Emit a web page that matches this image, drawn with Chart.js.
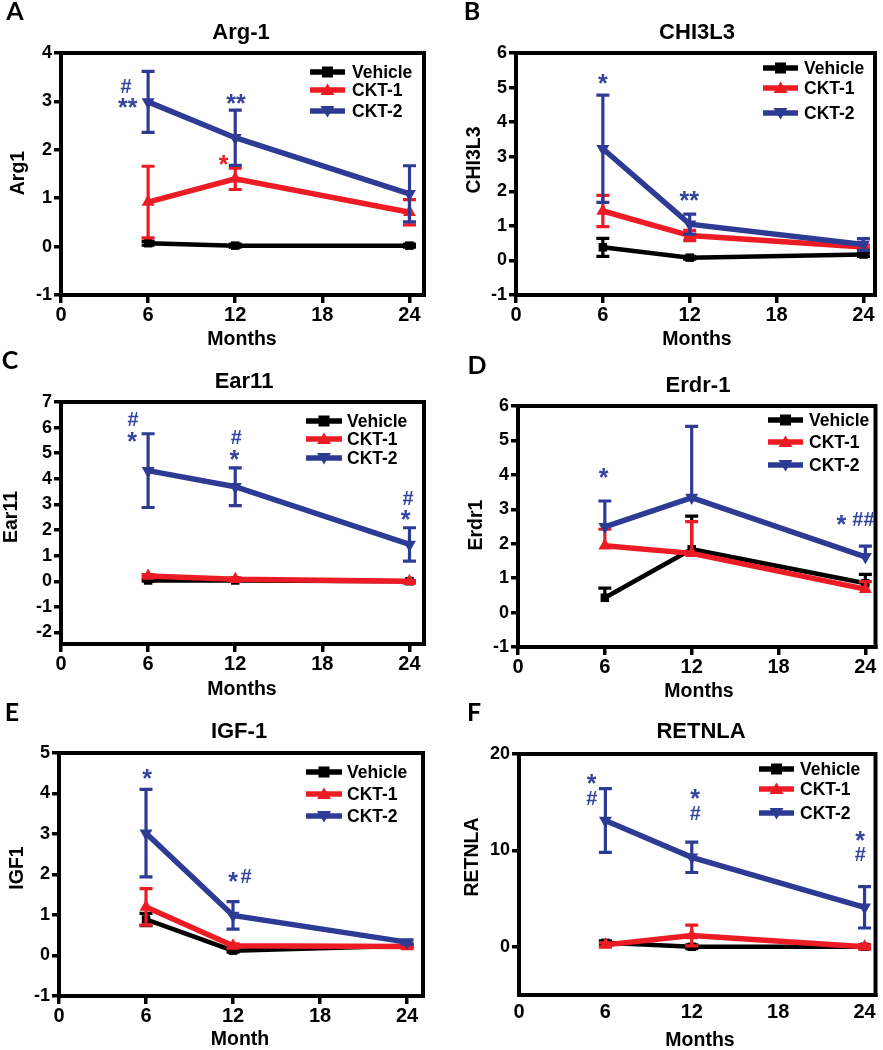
<!DOCTYPE html>
<html><head><meta charset="utf-8">
<script src="https://cdn.jsdelivr.net/npm/chart.js@4.4.1/dist/chart.umd.min.js"></script>
<style>
html,body{margin:0;padding:0;background:#fff;}
#wrap{position:relative;width:883px;height:1050px;overflow:hidden;background:#fff;}
canvas{position:absolute;}
</style></head><body><div id="wrap"></div>
<script>
// ---------- data ----------
const months = [6, 12, 24];
const seriesNames = ['Vehicle', 'CKT-1', 'CKT-2'];
const xTicks = [0, 6, 12, 18, 24];

// A: Arg-1
const argTicks = [-1, 0, 1, 2, 3, 4];
const argVehicle = [0.07, 0.02, 0.02];
const argVehicleErr = [0.04, 0.03, 0.03];
const argCkt1 = [0.92, 1.40, 0.71];
const argCkt1Err = [0.74, 0.22, 0.26];
const argCkt2 = [2.99, 2.25, 1.09];
const argCkt2Err = [0.63, 0.57, 0.58];

// B: CHI3L3
const chiTicks = [-1, 0, 1, 2, 3, 4, 5, 6];
const chiVehicle = [0.38, 0.08, 0.17];
const chiVehicleErr = [0.26, 0.04, 0.05];
const chiCkt1 = [1.43, 0.72, 0.39];
const chiCkt1Err = [0.45, 0.15, 0.05];
const chiCkt2 = [3.23, 1.05, 0.46];
const chiCkt2Err = [1.55, 0.29, 0.17];

// C: Ear11
const earTicks = [-2, -1, 0, 1, 2, 3, 4, 5, 6, 7];
const earVehicle = [0.03, 0.03, 0.0];
const earVehicleErr = [0.03, 0.03, 0.03];
const earCkt1 = [0.21, 0.08, 0.0];
const earCkt1Err = [0.05, 0.05, 0.03];
const earCkt2 = [4.32, 3.69, 1.44];
const earCkt2Err = [1.44, 0.74, 0.65];

// D: Erdr-1 (upper error bars only)
const erdTicks = [-1, 0, 1, 2, 3, 4, 5, 6];
const erdVehicle = [0.43, 1.84, 0.85];
const erdVehicleErr = [0.28, 0.96, 0.26];
const erdCkt1 = [1.94, 1.72, 0.68];
const erdCkt1Err = [0.48, 0.92, 0.22];
const erdCkt2 = [2.49, 3.34, 1.62];
const erdCkt2Err = [0.75, 2.07, 0.31];

// E: IGF-1
const igfTicks = [-1, 0, 1, 2, 3, 4, 5];
const igfVehicle = [0.89, 0.12, 0.24];
const igfVehicleErr = [0.15, 0.04, 0.04];
const igfCkt1 = [1.20, 0.24, 0.22];
const igfCkt1Err = [0.45, 0.05, 0.04];
const igfCkt2 = [3.02, 0.99, 0.33];
const igfCkt2Err = [1.08, 0.34, 0.05];

// F: RETNLA
const retTicks = [0, 10, 20];
const retVehicle = [0.41, 0.0, 0.0];
const retVehicleErr = [0.2, 0.2, 0.2];
const retCkt1 = [0.2, 1.17, 0.0];
const retCkt1Err = [0.2, 1.07, 0.2];
const retCkt2 = [13.1, 9.28, 4.1];
const retCkt2Err = [3.3, 1.57, 2.15];

// ---------- styling / layout ----------
const FONT = '"Liberation Sans", Arial, Helvetica, sans-serif';
const LFONT = 'Lato, "Open Sans", sans-serif';
const BLACK = '#000000', RED = '#ed1c24', BLUE = '#2e3b94', NBLUE = '#34449e';
const COLORS = [BLACK, RED, BLUE];
const STYLES = ['rect', 'triangle', 'triangle'];
const ROTS = [0, 0, 180];

const panels = [
  { cv:[0,0,440,350], area:[61,53,424,295], xMax:25, yMin:-1, yMax:4, yTicks:argTicks,
    vals:[argVehicle,argCkt1,argCkt2], errs:[argVehicleErr,argCkt1Err,argCkt2Err], upOnly:false,
    letter:['A',15,12], title:['Arg-1',241,33], xTitle:['Months',242,340], yTitle:['Arg1',19,173],
    legend:{x1:310,x2:345,tx:352,ys:[72,90,111]}, xMarks:true,
    notes:[['#',4.48,3.32,NBLUE],['**',4.6,2.99,NBLUE],['**',12.05,3.09,NBLUE],['*',11.2,1.81,RED]] },
  { cv:[440,0,443,350], area:[516,53,875,295], xMax:24.8, yMin:-1, yMax:6, yTicks:chiTicks,
    vals:[chiVehicle,chiCkt1,chiCkt2], errs:[chiVehicleErr,chiCkt1Err,chiCkt2Err], upOnly:false,
    letter:['B',472,12], title:['CHI3L3',697,33], xTitle:['Months',697,340], yTitle:['CHI3L3',475,160],
    legend:{x1:763,x2:798,tx:804,ys:[68,88,113]}, xMarks:true,
    notes:[['*',6.0,5.28,NBLUE],['**',11.96,1.9,NBLUE]] },
  { cv:[0,345,440,355], area:[61,402,424,644], xMax:25, yMin:-2.45, yMax:7, yTicks:earTicks,
    vals:[earVehicle,earCkt1,earCkt2], errs:[earVehicleErr,earCkt1Err,earCkt2Err], upOnly:false,
    letter:['C',10,361], title:['Ear11',244,382], xTitle:['Months',242,690], yTitle:['Ear11',12,517],
    legend:{x1:306,x2:342,tx:347,ys:[421,439,458]}, xMarks:true,
    notes:[['#',4.97,6.33,NBLUE],['*',4.9,5.7,NBLUE],['#',12.08,5.63,NBLUE],['*',11.94,5.0,NBLUE],['#',23.9,3.27,NBLUE],['*',23.74,2.65,NBLUE]] },
  { cv:[440,345,443,355], area:[518,406,877,647], xMax:24.7, yMin:-1, yMax:6, yTicks:erdTicks,
    vals:[erdVehicle,erdCkt1,erdCkt2], errs:[erdVehicleErr,erdCkt1Err,erdCkt2Err], upOnly:true,
    letter:['D',477,366], title:['Erdr-1',698,386], xTitle:['Months',699,692], yTitle:['Erdr1',477,525],
    legend:{x1:768,x2:803,tx:809,ys:[420,442,465]}, xMarks:true,
    notes:[['*',5.91,4.09,NBLUE],['*',22.35,2.72,NBLUE],['##',23.87,2.72,NBLUE]] },
  { cv:[0,698,440,352], area:[59,753,423,996], xMax:25.1, yMin:-1, yMax:5, yTicks:igfTicks,
    vals:[igfVehicle,igfCkt1,igfCkt2], errs:[igfVehicleErr,igfCkt1Err,igfCkt2Err], upOnly:false,
    letter:['E',12,713], title:['IGF-1',239,732], xTitle:['Month',240,1040], yTitle:['IGF1',18,868],
    legend:{x1:306,x2:342,tx:347,ys:[772,794,816]}, xMarks:true,
    notes:[['*',6.07,4.53,NBLUE],['*',12.0,1.97,NBLUE],['#',12.9,1.97,NBLUE]] },
  { cv:[440,698,443,352], area:[519,754,877,995], xMax:24.76, yMin:-5, yMax:20, yTicks:retTicks,
    vals:[retVehicle,retCkt1,retCkt2], errs:[retVehicleErr,retCkt1Err,retCkt2Err], upOnly:false,
    letter:['F',474,713], title:['RETNLA',701,732], xTitle:['Months',700,1041], yTitle:['RETNLA',473,857],
    legend:{x1:759,x2:794,tx:800,ys:[769,789,813]}, xMarks:false,
    notes:[['*',5.05,17.6,NBLUE],['#',5.05,15.5,NBLUE],['*',12.24,15.96,NBLUE],['#',12.24,13.9,NBLUE],['*',23.7,11.7,NBLUE],['#',23.7,9.6,NBLUE]] }
];

function drawMarker(ctx, kind, x, y, color) {
  ctx.fillStyle = color;
  ctx.beginPath();
  if (kind === 0) { ctx.rect(x - 5.5, y - 5.5, 11, 11); }
  else if (kind === 1) { ctx.moveTo(x, y - 6.5); ctx.lineTo(x + 7, y + 5); ctx.lineTo(x - 7, y + 5); ctx.closePath(); }
  else { ctx.moveTo(x, y + 6.5); ctx.lineTo(x + 7, y - 5); ctx.lineTo(x - 7, y - 5); ctx.closePath(); }
  ctx.fill();
}

function makeDecor(p) {
  const [cx, cy] = p.cv;
  return {
    id: 'decor',
    afterDatasetDraw(chart, args) {
      const i = args.index;
      const xs = chart.scales.x, ys = chart.scales.y, ctx = chart.ctx;
      const vals = p.vals[i], errs = p.errs[i];
      ctx.save();
      ctx.strokeStyle = COLORS[i];
      ctx.lineWidth = 3.2;
      ctx.lineCap = 'butt';
      vals.forEach((v, k) => {
        const e = errs[k];
        const x = xs.getPixelForValue(months[k]);
        const y0 = ys.getPixelForValue(v);
        const yu = ys.getPixelForValue(v + e);
        const yd = ys.getPixelForValue(v - e);
        ctx.beginPath();
        ctx.moveTo(x, y0); ctx.lineTo(x, yu);
        ctx.moveTo(x - 6.5, yu); ctx.lineTo(x + 6.5, yu);
        if (!p.upOnly) {
          ctx.moveTo(x, y0); ctx.lineTo(x, yd);
          ctx.moveTo(x - 6.5, yd); ctx.lineTo(x + 6.5, yd);
        }
        ctx.stroke();
      });
      ctx.restore();
    },
    afterDatasetsDraw(chart) {
      const a = chart.chartArea, ctx = chart.ctx;
      ctx.save();
      ctx.strokeStyle = '#000';
      ctx.lineWidth = 4;
      ctx.strokeRect(a.left, a.top, a.right - a.left, a.bottom - a.top);
      ctx.restore();
    },
    afterDraw(chart) {
      const ctx = chart.ctx, xs = chart.scales.x, ys = chart.scales.y;
      ctx.save();
      ctx.translate(-cx, -cy);
      ctx.fillStyle = '#000';
      ctx.textAlign = 'center';
      ctx.textBaseline = 'middle';
      // panel letter
      ctx.font = 'bold 25px ' + LFONT;
      ctx.fillText(p.letter[0], p.letter[1], p.letter[2]);
      // title
      ctx.font = 'bold 22px ' + FONT;
      ctx.fillText(p.title[0], p.title[1], p.title[2]);
      // x title
      ctx.font = 'bold 19.5px ' + FONT;
      ctx.fillText(p.xTitle[0], p.xTitle[1], p.xTitle[2]);
      // y title
      ctx.save();
      ctx.translate(p.yTitle[1], p.yTitle[2]);
      ctx.rotate(-Math.PI / 2);
      ctx.fillText(p.yTitle[0], 0, 0);
      ctx.restore();
      // legend
      const L = p.legend;
      ctx.font = 'bold 17.5px ' + FONT;
      ctx.textAlign = 'left';
      seriesNames.forEach((name, i) => {
        const y = L.ys[i];
        ctx.strokeStyle = COLORS[i];
        ctx.lineWidth = 5.5;
        ctx.beginPath(); ctx.moveTo(L.x1, y); ctx.lineTo(L.x2, y); ctx.stroke();
        drawMarker(ctx, i, (L.x1 + L.x2) / 2, y, COLORS[i]);
        ctx.fillStyle = '#000';
        ctx.fillText(name, L.tx, y + 1);
      });
      ctx.restore();
      // significance notes (data coordinates)
      ctx.save();
      ctx.textAlign = 'center';
      ctx.textBaseline = 'alphabetic';
      p.notes.forEach(n => {
        const x = xs.getPixelForValue(n[1]);
        const y = ys.getPixelForValue(n[2]);
        const star = n[0].indexOf('*') >= 0;
        const fs = star ? 25 : 20;
        ctx.font = 'bold ' + fs + 'px ' + FONT;
        const off = star ? 0.58 * fs : 0.36 * fs;
        ctx.fillStyle = n[3];
        ctx.fillText(n[0], x, y + off);
      });
      ctx.restore();
    }
  };
}

const wrap = document.getElementById('wrap');
panels.forEach(p => {
  const [cx, cy, cw, ch] = p.cv;
  const [al, at, ar, ab] = p.area;
  const canvas = document.createElement('canvas');
  canvas.width = cw; canvas.height = ch;
  canvas.style.left = cx + 'px'; canvas.style.top = cy + 'px';
  canvas.style.width = cw + 'px'; canvas.style.height = ch + 'px';
  wrap.appendChild(canvas);

  const datasets = seriesNames.map((name, i) => ({
    label: name,
    data: months.map((m, k) => ({ x: m, y: p.vals[i][k] })),
    borderColor: COLORS[i],
    backgroundColor: COLORS[i],
    borderWidth: i === 0 ? 4.5 : 5.5,
    pointStyle: STYLES[i],
    pointRadius: i === 0 ? 6 : 7.5,
    pointRotation: ROTS[i],
    pointBorderWidth: 0,
    pointBackgroundColor: COLORS[i],
    tension: 0,
    order: 3 - i,
    clip: false
  }));

  new Chart(canvas, {
    type: 'line',
    data: { datasets },
    plugins: [makeDecor(p)],
    options: {
      responsive: false,
      animation: false,
      devicePixelRatio: 1,
      layout: { padding: { left: 0, top: at - cy, right: cx + cw - ar, bottom: 0 } },
      plugins: { legend: { display: false }, title: { display: false }, tooltip: { enabled: false } },
      scales: {
        x: {
          type: 'linear', min: 0, max: p.xMax,
          afterBuildTicks: s => { s.ticks = xTicks.map(v => ({ value: v })); },
          afterFit: s => { s.height = cy + ch - ab; },
          grid: { drawOnChartArea: false, drawTicks: p.xMarks, tickLength: 8, color: '#000', lineWidth: 3.5 },
          border: { display: true, color: '#000', width: 4 },
          ticks: { color: '#000', font: { family: FONT, size: 20, weight: 'bold' }, padding: p.xMarks ? 0 : 5, maxRotation: 0, autoSkip: false }
        },
        y: {
          type: 'linear', min: p.yMin, max: p.yMax,
          afterBuildTicks: s => { s.ticks = p.yTicks.map(v => ({ value: v })); },
          afterFit: s => { s.width = al - cx; },
          grid: { drawOnChartArea: false, drawTicks: true, tickLength: 7, color: '#000', lineWidth: 3.5 },
          border: { display: true, color: '#000', width: 4 },
          ticks: { color: '#000', font: { family: FONT, size: 18, weight: 'bold' }, padding: 2, autoSkip: false }
        }
      }
    }
  });
});
</script>
</body></html>
